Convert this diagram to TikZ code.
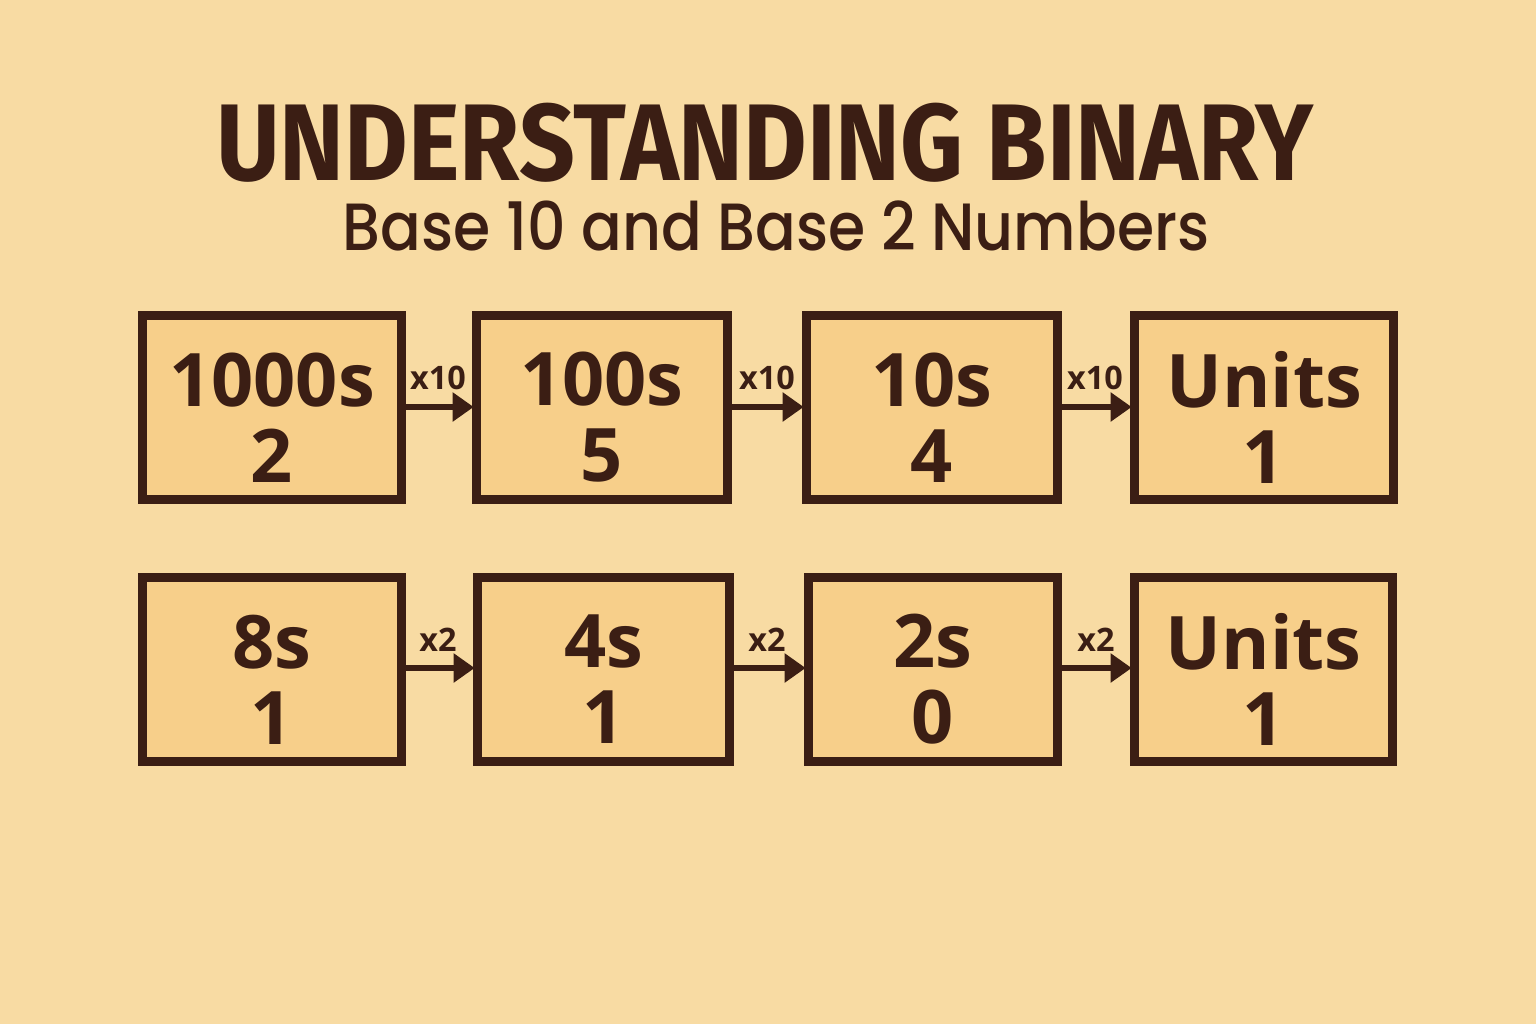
\documentclass[tikz,border=0pt]{standalone}
\usepackage{fontspec}
\setmainfont{Open Sans}
\newfontfamily\titlefont{Fira Sans}
\newfontfamily\subfont{Poppins Medium}
\usetikzlibrary{arrows.meta}
\definecolor{bgc}{HTML}{F8DBA3}
\definecolor{boxc}{HTML}{F7CF8A}
\definecolor{ink}{HTML}{3B1E14}
\tikzset{
  numbox/.style={draw=ink, fill=boxc, line width=2.56pt, rectangle, inner sep=0pt},
  boxtext/.style={text=ink, font=\fontsize{21}{21.6}\selectfont\bfseries, align=center, inner sep=0pt},
  conn/.style={draw=ink, line width=1.7pt, -{Triangle[length=6pt,width=8pt]}, shorten >=-0.5pt},
  mult/.style={text=ink, font=\fontsize{9.2}{10}\selectfont\bfseries, anchor=base, inner sep=0pt}
}
\begin{document}
\begin{tikzpicture}[x=0.01cm,y=-0.01cm]
\fill[bgc] (0,0) rectangle (1536,1024);
\useasboundingbox (0,0) rectangle (1536,1024);
\node[text=ink, anchor=base, inner sep=0pt, font=\titlefont\fontsize{31}{31}\selectfont\bfseries] (title) at (765,180) {\scalebox{0.897}[1]{UNDERSTANDING BINARY}};
\node[text=ink, anchor=base, inner sep=0pt, font=\subfont\fontsize{19}{19}\selectfont] (sub) at (776,250) {\scalebox{0.9}[1]{Base 10 and Base 2 Numbers}};
% row 1
\node[numbox, minimum width=2.59cm, minimum height=1.84cm] (a1) at (272,407.5) {};
\node[numbox, minimum width=2.51cm, minimum height=1.84cm] (a2) at (602,407.5) {};
\node[numbox, minimum width=2.51cm, minimum height=1.84cm] (a3) at (932,407.5) {};
\node[numbox, minimum width=2.59cm, minimum height=1.84cm] (a4) at (1264,407.5) {};
\node[boxtext] (a1t) at ([yshift=-0.1cm]a1.center) {1000s\\2};
\node[boxtext] (a2t) at ([yshift=-0.1cm]a2.center) {100s\\5};
\node[boxtext] (a3t) at ([yshift=-0.1cm]a3.center) {10s\\4};
\node[boxtext] (a4t) at ([yshift=-0.1cm]a4.center) {Units\\1};
% row 2
\node[numbox, minimum width=2.59cm, minimum height=1.83cm] (b1) at (272,669.5) {};
\node[numbox, minimum width=2.52cm, minimum height=1.83cm] (b2) at (603.5,669.5) {};
\node[numbox, minimum width=2.49cm, minimum height=1.83cm] (b3) at (933,669.5) {};
\node[numbox, minimum width=2.58cm, minimum height=1.83cm] (b4) at (1263.5,669.5) {};
\node[boxtext] (b1t) at ([yshift=-0.1cm]b1.center) {8s\\1};
\node[boxtext] (b2t) at ([yshift=-0.1cm]b2.center) {4s\\1};
\node[boxtext] (b3t) at ([yshift=-0.1cm]b3.center) {2s\\0};
\node[boxtext] (b4t) at ([yshift=-0.1cm]b4.center) {Units\\1};
% arrows row 1
\draw[conn] (a1.east |- 0,407) -- (a2.west |- 0,407);
\draw[conn] (a2.east |- 0,407) -- (a3.west |- 0,407);
\draw[conn] (a3.east |- 0,407) -- (a4.west |- 0,407);
\node[mult] (m1) at (438,389) {x10};
\node[mult] (m2) at (767,389) {x10};
\node[mult] (m3) at (1095,389) {x10};
% arrows row 2
\draw[conn] (b1.east |- 0,668) -- (b2.west |- 0,668);
\draw[conn] (b2.east |- 0,668) -- (b3.west |- 0,668);
\draw[conn] (b3.east |- 0,668) -- (b4.west |- 0,668);
\node[mult] (n1) at (438,651) {x2};
\node[mult] (n2) at (767,651) {x2};
\node[mult] (n3) at (1096,651) {x2};
\end{tikzpicture}
\end{document}
